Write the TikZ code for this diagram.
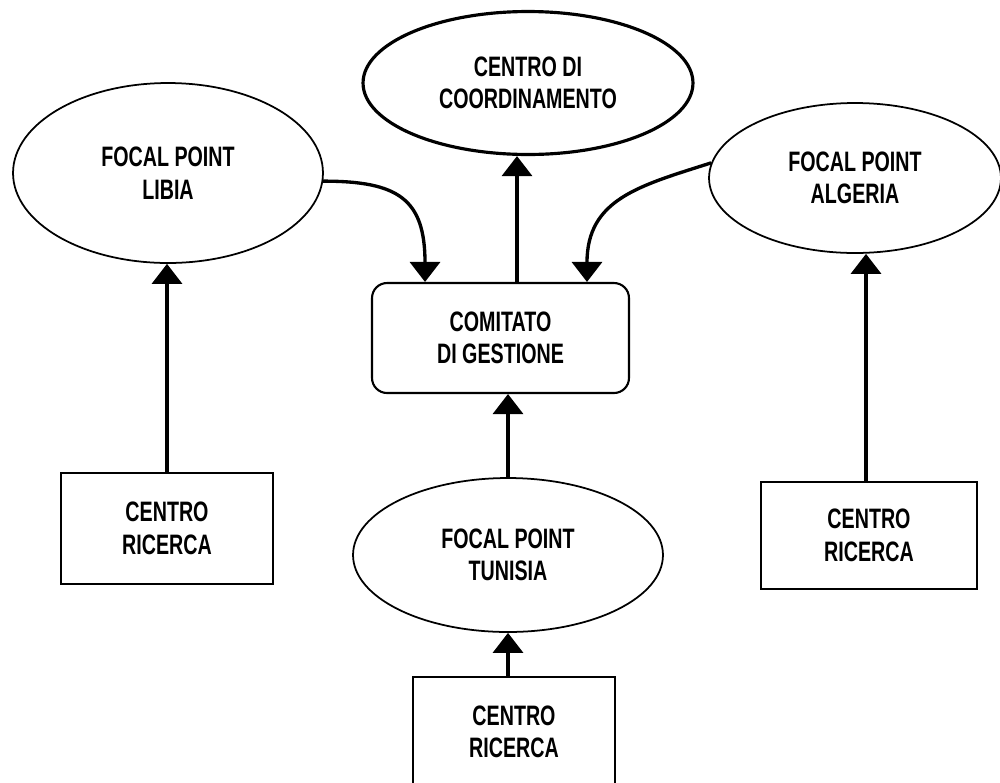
\documentclass[tikz,border=0pt]{standalone}
\usepackage{fontspec}
\usepackage{tikz}
\usetikzlibrary{shapes,arrows.meta}
\newfontfamily\boxfont{Liberation Sans}[FakeStretch=0.7]
\tikzstyle{ovale} = [draw=black, ellipse, line width=1pt, inner sep=0pt, align=center, font=\boxfont\bfseries\fontsize{16}{18.5}\selectfont]
\tikzstyle{centro} = [draw=black, rectangle, line width=1.2pt, inner sep=0pt, align=center, font=\boxfont\bfseries\fontsize{16}{18.5}\selectfont]
\tikzstyle{freccia} = [line width=1.9pt, -{Triangle[width=0.6cm,length=0.4cm]}]

\begin{document}
\begin{tikzpicture}[x=0.02cm, y=-0.02cm]
\useasboundingbox (0,0) rectangle (1000,782);
% ovali in alto
\node [ovale, line width=1.8pt, minimum width=6.6cm, minimum height=2.86cm] (coord) at (528,83) {CENTRO DI\\COORDINAMENTO};
\node [ovale, minimum width=6.2cm, minimum height=3.6cm] (fpLibia) at (168,173) {FOCAL POINT\\LIBIA};
\node [ovale, minimum width=5.84cm, minimum height=3cm] (fpAlgeria) at (855,178) {FOCAL POINT\\ALGERIA};
% comitato
\node [centro, rounded corners=0.3cm, minimum width=5.14cm, minimum height=2.2cm] (comitato) at (500.5,338) {COMITATO\\DI GESTIONE};
\node [ovale, minimum width=6.2cm, minimum height=3.08cm] (fpTunisia) at (508,555) {FOCAL POINT\\TUNISIA};
% centri di ricerca
\node [centro, minimum width=4.24cm, minimum height=2.22cm] (ricLibia) at (167,528.5) {CENTRO\\RICERCA};
\node [centro, minimum width=4.32cm, minimum height=2.14cm] (ricAlgeria) at (869,535.5) {CENTRO\\RICERCA};
\node [centro, minimum width=4.04cm, minimum height=2.2cm] (ricTunisia) at (514,732) {CENTRO\\RICERCA};

\draw [freccia] (ricLibia.north) -- (ricLibia.north |- fpLibia.south);
\draw [freccia] ([xshift=-0.06cm]ricAlgeria.north) -- ([xshift=-0.06cm]ricAlgeria.north |- fpAlgeria.south);
\draw [freccia] (fpTunisia.north) -- (fpTunisia.north |- comitato.south);
\draw [freccia] (ricTunisia.north -| fpTunisia.south) -- (fpTunisia.south);
\draw [freccia] ([xshift=0.33cm]comitato.north) -- ([xshift=0.33cm]comitato.north |- coord.south);
\draw [freccia] (fpLibia.-3) .. controls +(1.5cm,0) and +(0,1.66cm) .. ([xshift=-1.51cm]comitato.north);
\draw [freccia] (fpAlgeria.174) .. controls +(-1.44cm,-0.46cm) and +(0,1.66cm) .. ([xshift=1.73cm]comitato.north);
\end{tikzpicture}
\end{document}
